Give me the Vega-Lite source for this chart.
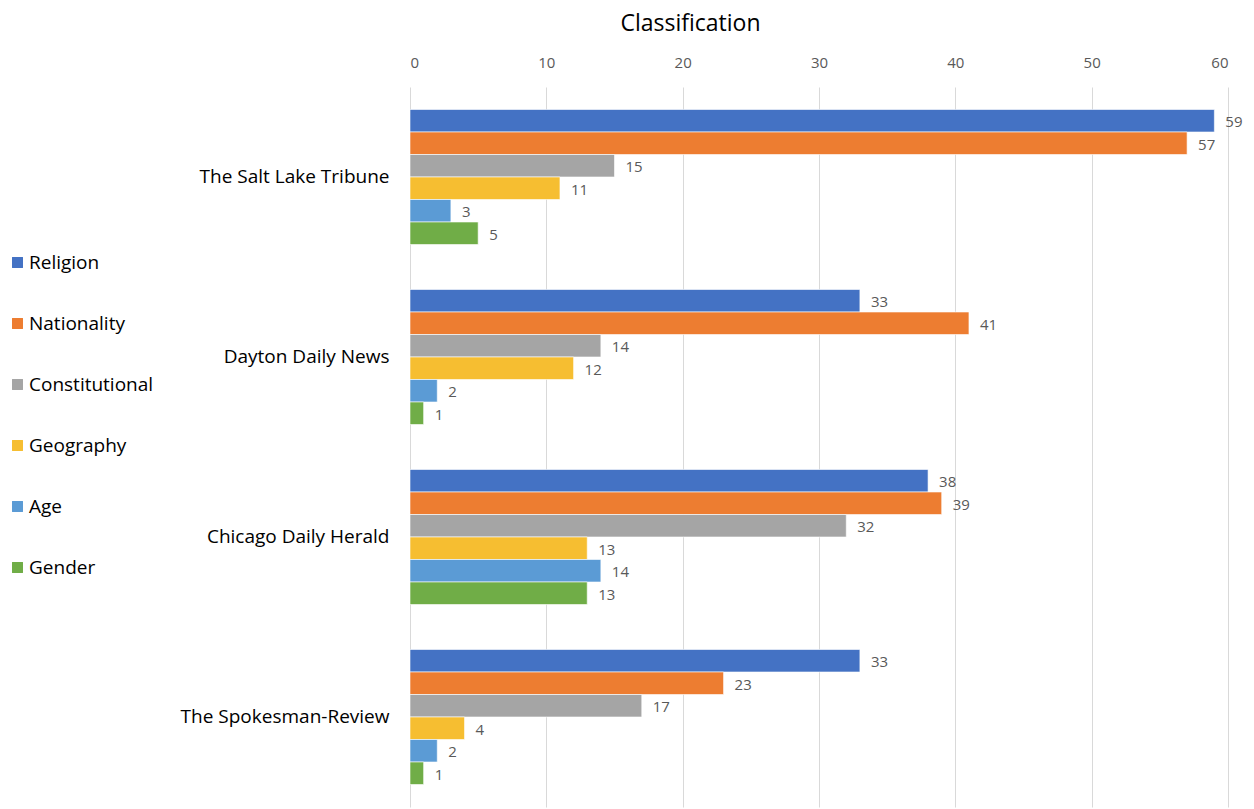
{
  "$schema": "https://vega.github.io/schema/vega-lite/v6.json",
  "autosize": "none",
  "width": 818,
  "height": 720,
  "padding": {"left": 410, "top": 87, "right": 26, "bottom": 2},
  "background": "white",
  "config": {
    "view": {"stroke": null},
    "font": "Open Sans"
  },
  "data": {
    "values": [
      {"paper": "The Salt Lake Tribune", "category": "Religion", "count": 59},
      {"paper": "The Salt Lake Tribune", "category": "Nationality", "count": 57},
      {"paper": "The Salt Lake Tribune", "category": "Constitutional", "count": 15},
      {"paper": "The Salt Lake Tribune", "category": "Geography", "count": 11},
      {"paper": "The Salt Lake Tribune", "category": "Age", "count": 3},
      {"paper": "The Salt Lake Tribune", "category": "Gender", "count": 5},
      {"paper": "Dayton Daily News", "category": "Religion", "count": 33},
      {"paper": "Dayton Daily News", "category": "Nationality", "count": 41},
      {"paper": "Dayton Daily News", "category": "Constitutional", "count": 14},
      {"paper": "Dayton Daily News", "category": "Geography", "count": 12},
      {"paper": "Dayton Daily News", "category": "Age", "count": 2},
      {"paper": "Dayton Daily News", "category": "Gender", "count": 1},
      {"paper": "Chicago Daily Herald", "category": "Religion", "count": 38},
      {"paper": "Chicago Daily Herald", "category": "Nationality", "count": 39},
      {"paper": "Chicago Daily Herald", "category": "Constitutional", "count": 32},
      {"paper": "Chicago Daily Herald", "category": "Geography", "count": 13},
      {"paper": "Chicago Daily Herald", "category": "Age", "count": 14},
      {"paper": "Chicago Daily Herald", "category": "Gender", "count": 13},
      {"paper": "The Spokesman-Review", "category": "Religion", "count": 33},
      {"paper": "The Spokesman-Review", "category": "Nationality", "count": 23},
      {"paper": "The Spokesman-Review", "category": "Constitutional", "count": 17},
      {"paper": "The Spokesman-Review", "category": "Geography", "count": 4},
      {"paper": "The Spokesman-Review", "category": "Age", "count": 2},
      {"paper": "The Spokesman-Review", "category": "Gender", "count": 1}
    ]
  },
  "encoding": {
    "y": {
      "field": "paper",
      "type": "nominal",
      "sort": ["The Salt Lake Tribune", "Dayton Daily News", "Chicago Daily Herald", "The Spokesman-Review"],
      "scale": {"paddingInner": 0.25, "paddingOuter": 0.125},
      "axis": {
        "title": null,
        "domain": false,
        "ticks": false,
        "labelFontSize": 19,
        "labelColor": "#000000",
        "labelPadding": 21,
        "labelLimit": 400,
        "labelFont": "Open Sans"
      }
    },
    "yOffset": {
      "field": "category",
      "type": "nominal",
      "sort": ["Religion", "Nationality", "Constitutional", "Geography", "Age", "Gender"],
      "scale": {"paddingInner": 0, "paddingOuter": 0}
    },
    "x": {
      "field": "count",
      "type": "quantitative",
      "scale": {"domain": [0, 60], "nice": false},
      "axis": {
        "orient": "top",
        "values": [0, 10, 20, 30, 40, 50, 60],
        "domain": false,
        "ticks": false,
        "grid": true,
        "gridColor": "#d9d9d9",
        "gridWidth": 1,
        "labelFontSize": 15,
        "labelColor": "#595959",
        "labelPadding": 17,
        "title": "Classification",
        "titleFontSize": 23,
        "titleFontWeight": "normal",
        "titleColor": "#000000",
        "titleFont": "Open Sans",
        "titleX": 280,
        "titleY": -52
      }
    }
  },
  "layer": [
    {
      "mark": {"type": "bar", "stroke": "#ffffff", "strokeWidth": 0.6},
      "encoding": {
        "color": {
          "field": "category",
          "type": "nominal",
          "scale": {
            "domain": ["Religion", "Nationality", "Constitutional", "Geography", "Age", "Gender"],
            "range": ["#4472C4", "#ED7D31", "#A5A5A5", "#F6BE31", "#5B9BD5", "#70AD47"]
          },
          "legend": {
            "title": null,
            "orient": "none",
            "legendX": -402,
            "legendY": 166,
            "symbolType": "square",
            "symbolSize": 120,
            "symbolStrokeWidth": 0,
            "labelFontSize": 19,
            "labelColor": "#000000",
            "labelFont": "Open Sans",
            "labelOffset": 2,
            "rowPadding": 41,
            "labelLimit": 300,
            "padding": 0
          }
        }
      }
    },
    {
      "mark": {"type": "text", "align": "left", "baseline": "middle", "dx": 11, "dy": 1.5, "fontSize": 15, "color": "#595959"},
      "encoding": {
        "text": {"field": "count", "type": "quantitative"}
      }
    }
  ]
}
